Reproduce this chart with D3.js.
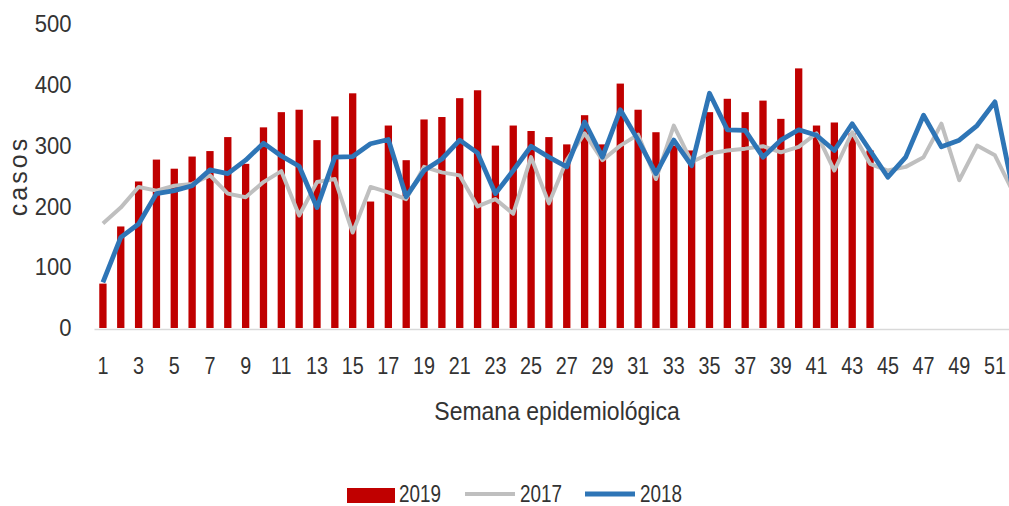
<!DOCTYPE html>
<html>
<head>
<meta charset="utf-8">
<script src="https://cdn.jsdelivr.net/npm/d3@7"></script>
<style>
  html, body { margin: 0; padding: 0; background: #fff; }
  svg { display: block; }
  text { font-family: "Liberation Sans", Arial, sans-serif; fill: #333; }
</style>
</head>
<body>
<svg id="chart" width="1009" height="506"></svg>
<script>
const weeks = d3.range(1, 53);
const xTickWeeks = d3.range(1, 53, 2);
const yTicks = [0, 100, 200, 300, 400, 500];

const cases2019 = [73, 167, 241, 277, 262, 282, 291, 314, 270, 330, 355, 359, 309, 348, 386, 208, 333, 276, 343, 347, 378, 391, 300, 333, 324, 314, 302, 350, 302, 402, 359, 322, 300, 292, 355, 377, 355, 374, 344, 427, 333, 338, 320, 292];
const cases2017 = [172, 198, 232, 226, 234, 237, 251, 221, 215, 240, 258, 185, 240, 245, 157, 232, 223, 212, 265, 256, 251, 200, 212, 188, 281, 205, 276, 320, 276, 300, 318, 245, 333, 273, 287, 292, 295, 299, 289, 298, 320, 259, 322, 270, 259, 265, 281, 336, 243, 300, 284, 225];
const cases2018 = [75, 149, 171, 221, 226, 234, 260, 254, 276, 304, 283, 266, 198, 281, 282, 303, 310, 216, 259, 278, 309, 288, 221, 259, 299, 281, 265, 339, 281, 359, 309, 254, 309, 267, 386, 326, 325, 281, 309, 326, 317, 292, 336, 292, 248, 281, 350, 298, 309, 333, 372, 229];

const colors = { "2019": "#C00000", "2017": "#BFBFBF", "2018": "#2E75B6" };

const svg = d3.select("#chart");
const step = 17.84;
const x0 = 94;
const x = d3.scaleBand()
  .domain(weeks)
  .range([x0, x0 + step * weeks.length])
  .paddingInner(0.59)
  .paddingOuter(0.295);
const y = d3.scaleLinear().domain([0, 500]).range([328, 24]);
const cx = w => x(w) + x.bandwidth() / 2;

// x axis
const xAxis = svg.append("g")
  .attr("transform", `translate(0,${y(0) + 1})`)
  .call(d3.axisBottom(x).tickValues(xTickWeeks).tickSize(0).tickPadding(29));
xAxis.select(".domain").attr("stroke", "#D9D9D9").attr("stroke-width", 1.5);
xAxis.selectAll("text")
  .attr("font-size", 23)
  .attr("fill", "#333")
  .attr("font-family", "'Liberation Sans', Arial, sans-serif")
  .attr("transform", "scale(0.86,1)");

// y axis
const yAxis = svg.append("g")
  .attr("transform", `translate(${x0},0)`)
  .call(d3.axisLeft(y).tickValues(yTicks).tickSize(0).tickPadding(21));
yAxis.select(".domain").remove();
yAxis.selectAll("text")
  .attr("font-size", 24)
  .attr("fill", "#333")
  .attr("font-family", "'Liberation Sans', Arial, sans-serif")
  .attr("transform", "translate(-1.5,0) scale(0.92,1)")
  .attr("x", -21 / 0.92);

// bars 2019
svg.append("g").selectAll("rect")
  .data(cases2019)
  .join("rect")
  .attr("x", (d, i) => x(weeks[i]))
  .attr("width", x.bandwidth())
  .attr("y", d => y(d))
  .attr("height", d => y(0) - y(d))
  .attr("fill", colors["2019"]);

const line = d3.line()
  .x((d, i) => cx(weeks[i]))
  .y(d => y(d));

svg.append("path")
  .datum(cases2017)
  .attr("d", line)
  .attr("fill", "none")
  .attr("stroke", colors["2017"])
  .attr("stroke-width", 4)
  .attr("stroke-linejoin", "round");

svg.append("path")
  .datum(cases2018)
  .attr("d", line)
  .attr("fill", "none")
  .attr("stroke", colors["2018"])
  .attr("stroke-width", 4.8)
  .attr("stroke-linejoin", "round");

// axis titles
svg.append("text")
  .attr("transform", "translate(27,176) rotate(-90)")
  .attr("text-anchor", "middle")
  .attr("font-size", 25)
  .attr("letter-spacing", 3)
  .text("casos");

svg.append("text")
  .attr("transform", "translate(557,420) scale(0.92,1)")
  .attr("text-anchor", "middle")
  .attr("font-size", 25)
  .text("Semana epidemiológica");

// legend
const legend = svg.append("g");
const lg = [
  { name: "2019", x: 347 },
  { name: "2017", x: 465 },
  { name: "2018", x: 585 }
];
lg.forEach(item => {
  const g = legend.append("g").attr("transform", `translate(${item.x},0)`);
  if (item.name === "2019") {
    g.append("rect").attr("x", 0).attr("y", 488).attr("width", 48).attr("height", 15).attr("fill", colors[item.name]);
    g.append("text").attr("transform", "translate(52,502) scale(0.82,1)").attr("font-size", 23).text(item.name);
  } else {
    g.append("line").attr("x1", 0).attr("x2", 50).attr("y1", 494).attr("y2", 494)
      .attr("stroke", colors[item.name]).attr("stroke-width", item.name === "2018" ? 4.8 : 4);
    g.append("text").attr("transform", "translate(55,502) scale(0.82,1)").attr("font-size", 23).text(item.name);
  }
});
</script>
</body>
</html>
